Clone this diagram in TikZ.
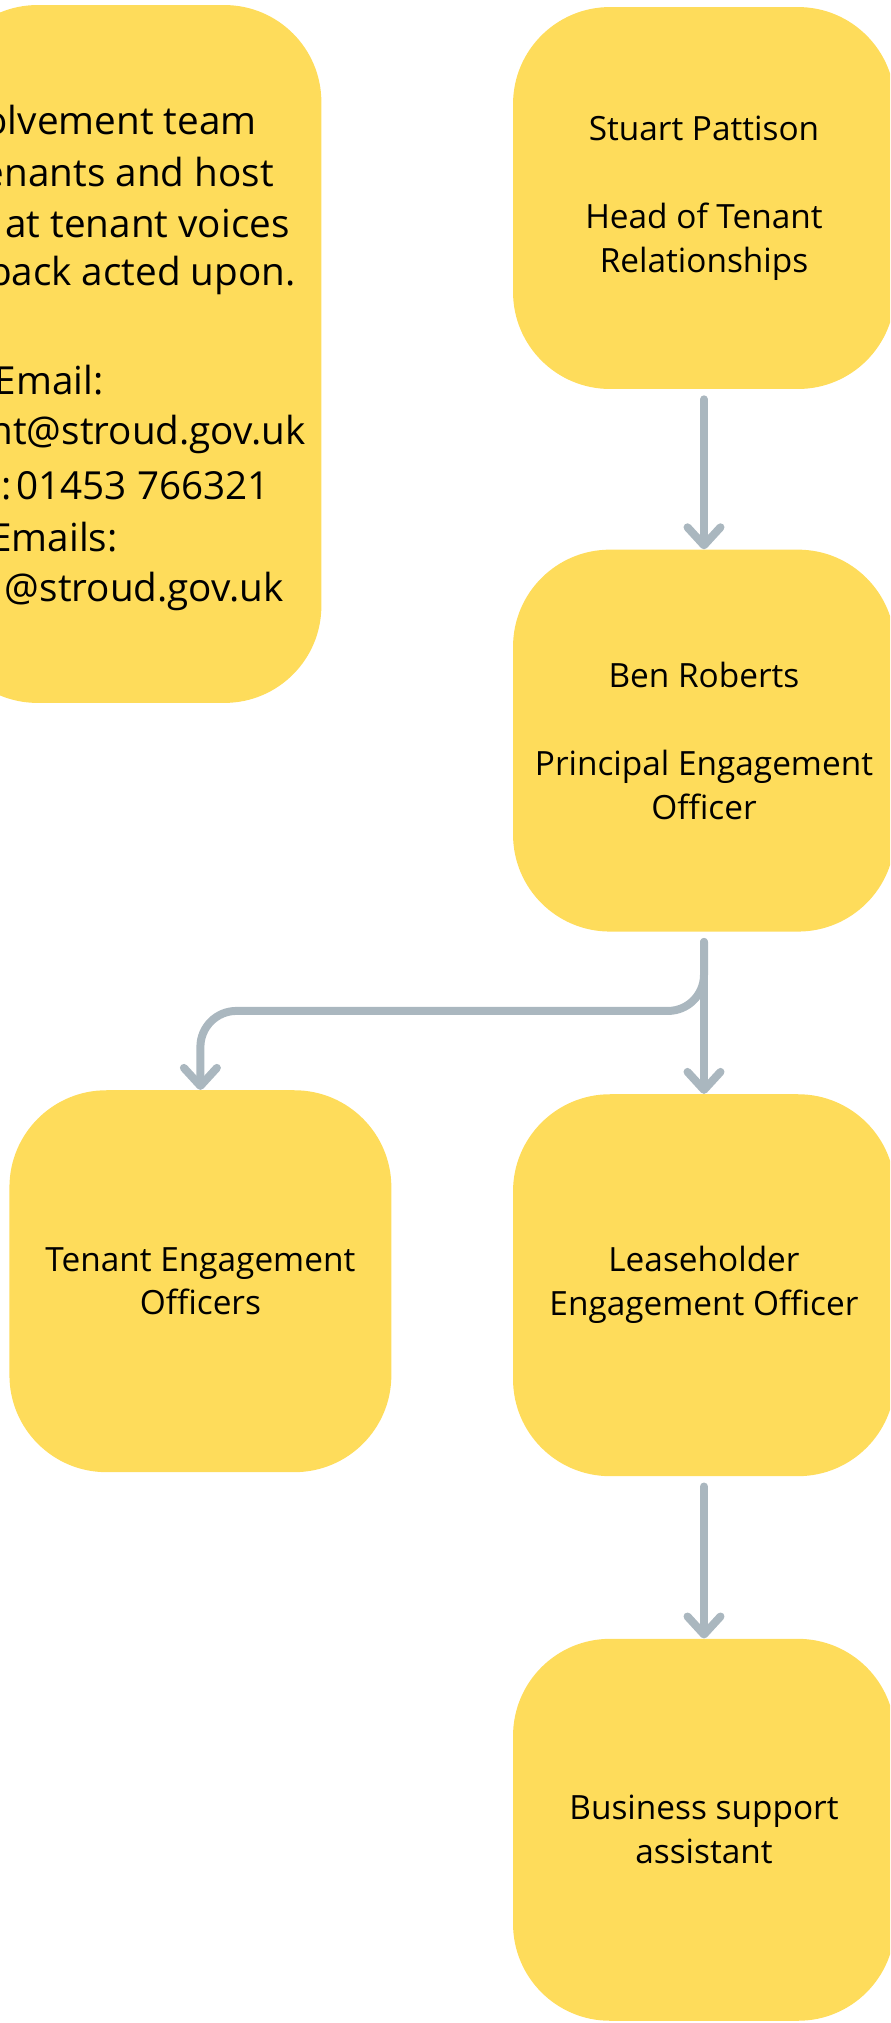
\documentclass[tikz,border=0pt]{standalone}
\usepackage{fontspec}
\setmainfont{Open Sans}
\usepackage{tikz}
\usetikzlibrary{positioning, arrows.meta}

\definecolor{cardyellow}{HTML}{FEDC5B}
\definecolor{linkgrey}{HTML}{AAB7BF}

\begin{document}
\begin{tikzpicture}[x=0.02cm, y=-0.02cm, node distance=3.24cm,
        card/.style={fill=cardyellow, rounded corners=1.94cm, minimum width=7.64cm,
            minimum height=7.64cm, align=center, font=\fontsize{19pt}{25pt}\selectfont},
        infoline/.style={anchor=east, inner sep=0pt, font=\fontsize{22pt}{29pt}\selectfont},
        link/.style={draw=linkgrey, line width=0.16cm, line cap=round, line join=round,
            shorten <=0.2cm, -{Straight Barb[length=3.6mm, width=6.6mm, round]}}]
            \useasboundingbox (0,0) rectangle (890,2023);
            \clip (0,0) rectangle (890,2023);

            \node [card] (stuart) at (704,198) {Stuart Pattison\\[25pt]Head of Tenant\\Relationships};
            \node [card, below=3.2cm of stuart] (ben) {Ben Roberts\\[25pt]Principal Engagement\\Officer};
            \node [card, below=of ben] (lease) {Leaseholder\\Engagement Officer};
            \node [card, below=of lease] (business) {Business support\\assistant};
            \node [card, left=2.42cm of lease, yshift=0.08cm] (tenant) {Tenant Engagement\\Officers};

            % team box runs off the left edge of the page
            \node [card, minimum width=7.62cm, minimum height=13.96cm,
                below left=0cm and 3.82cm of stuart.north west, yshift=0.04cm] (team) {};
            \foreach \y/\x/\t in {120/257/olvement team, 172/274/enants and host,
                    223/290/at tenant voices, 275/296/back acted upon., 380/104/Email:,
                    434/306/nt@stroud.gov.uk, 486/270/:\hspace{0.12em}01453 766321,
                    537/118/Emails:, 591/284/@stroud.gov.uk}
                \node [infoline] (team\y) at (\x,\y) {\t};

            \draw [link] (stuart) -- (ben);
            \draw [link] (ben) -- (lease);
            \draw [link, rounded corners=0.72cm] (ben.south) -- ++(0,79) -| (tenant.north);
            \draw [link] (lease) -- (business);
\end{tikzpicture}
\end{document}
